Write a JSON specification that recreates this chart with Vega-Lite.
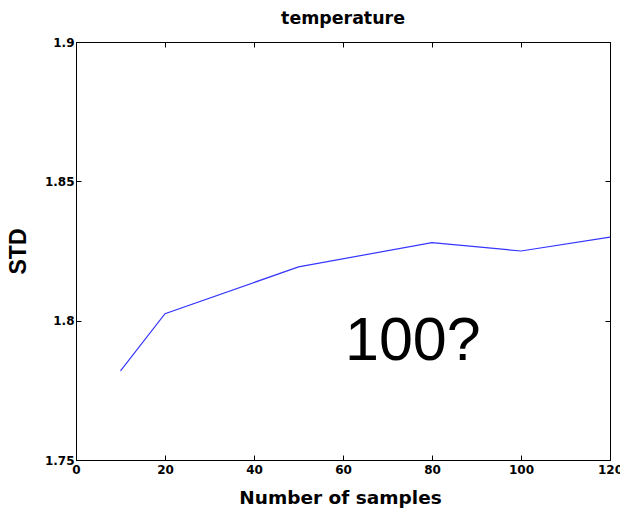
{
  "$schema": "https://vega.github.io/schema/vega-lite/v6.json",
  "width": 534,
  "height": 418,
  "autosize": {"type": "none"},
  "padding": {"left": 76, "top": 42, "right": 10, "bottom": 50},
  "background": "white",
  "config": {
    "view": {"stroke": "black", "strokeWidth": 1},
    "font": "DejaVu Sans",
    "axis": {"grid": false, "domainColor": "black", "tickColor": "black", "labelColor": "black", "titleColor": "black",
      "labelFont": "DejaVu Sans", "labelFontWeight": "bold", "labelFontSize": 12, "titleFont": "DejaVu Sans", "titleFontWeight": "bold", "titleFontSize": 18.5}
  },
  "title": {"text": "temperature", "fontSize": 17.4, "fontWeight": "bold", "font": "DejaVu Sans", "color": "black", "offset": 9, "anchor": "middle"},
  "datasets": {
    "series": [
      {"samples": 10, "std": 1.782},
      {"samples": 20, "std": 1.8025},
      {"samples": 50, "std": 1.8193},
      {"samples": 80, "std": 1.828},
      {"samples": 100, "std": 1.825},
      {"samples": 120, "std": 1.830}
    ],
    "note": [{"samples": 75.7, "std": 1.786, "label": "100?"}]
  },
  "layer": [
    {
      "data": {"name": "series"},
      "mark": {"type": "line", "color": "#3535ff", "strokeWidth": 1.2},
      "encoding": {
        "x": {"field": "samples", "type": "quantitative", "scale": {"domain": [0, 120], "nice": false, "zero": false},
          "axis": {"title": "Number of samples", "values": [0, 20, 40, 60, 80, 100, 120], "tickSize": -5, "labelPadding": 9, "labelFlush": false,
            "titleX": 264, "titleY": 43, "titleBaseline": "alphabetic", "titleAlign": "center"}},
        "y": {"field": "std", "type": "quantitative", "scale": {"domain": [1.75, 1.9], "nice": false, "zero": false},
          "axis": {"title": "STD", "values": [1.75, 1.8, 1.85, 1.9], "format": ".2~f", "tickSize": -5, "labelPadding": 7, "labelFlush": false,
            "titleFont": "Liberation Sans", "titleFontSize": 23, "titleX": -51, "titleY": 209, "titleBaseline": "alphabetic", "titleAlign": "center", "titleAngle": -90}}
      }
    },
    {
      "data": {"name": "series"},
      "mark": {"type": "line", "opacity": 0},
      "encoding": {
        "x": {"field": "samples", "type": "quantitative", "axis": {"orient": "top", "labels": false, "title": null, "values": [0, 20, 40, 60, 80, 100, 120], "tickSize": -5}},
        "y": {"field": "std", "type": "quantitative", "axis": {"orient": "right", "labels": false, "title": null, "values": [1.75, 1.8, 1.85, 1.9], "tickSize": -5}}
      }
    },
    {
      "data": {"name": "note"},
      "mark": {"type": "text", "fontSize": 61, "font": "Liberation Sans", "align": "center", "baseline": "alphabetic", "color": "black"},
      "encoding": {
        "x": {"field": "samples", "type": "quantitative", "axis": null},
        "y": {"field": "std", "type": "quantitative", "axis": null},
        "text": {"field": "label"}
      }
    }
  ],
  "resolve": {"axis": {"x": "independent", "y": "independent"}}
}
